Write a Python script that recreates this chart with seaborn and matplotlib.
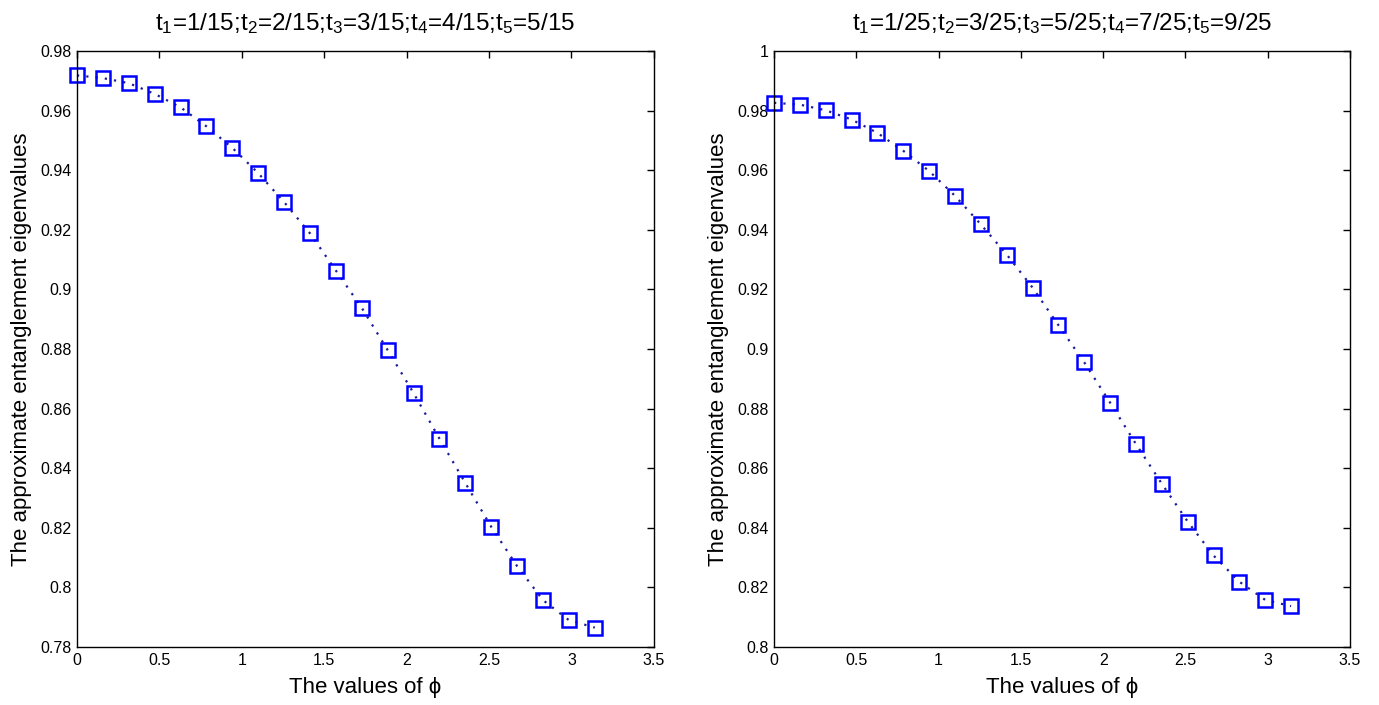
import matplotlib
matplotlib.use("Agg")
import matplotlib.pyplot as plt
import seaborn as sns
import pandas as pd
from matplotlib.ticker import FuncFormatter, MultipleLocator

# ---- data ----
phi = [0.0000, 0.1571, 0.3142, 0.4712, 0.6283, 0.7854, 0.9425, 1.0996, 1.2566,
       1.4137, 1.5708, 1.7279, 1.8850, 2.0420, 2.1991, 2.3562, 2.5133, 2.6704,
       2.8274, 2.9845, 3.1416]
eig_left = [0.9718, 0.9709, 0.9692, 0.9656, 0.9611, 0.9547, 0.9475, 0.9390, 0.9293,
            0.9188, 0.9063, 0.8938, 0.8796, 0.8652, 0.8499, 0.8350, 0.8203, 0.8071,
            0.7957, 0.7890, 0.7865]
eig_right = [0.9826, 0.9820, 0.9801, 0.9770, 0.9725, 0.9665, 0.9597, 0.9514, 0.9418,
             0.9317, 0.9206, 0.9080, 0.8955, 0.8820, 0.8681, 0.8548, 0.8421, 0.8307,
             0.8219, 0.8158, 0.8137]
title_left = r"t$_1$=1/15;t$_2$=2/15;t$_3$=3/15;t$_4$=4/15;t$_5$=5/15"
title_right = r"t$_1$=1/25;t$_2$=3/25;t$_3$=5/25;t$_4$=7/25;t$_5$=9/25"
ylims = [(0.78, 0.98), (0.80, 1.00)]
xlabel = "The values of ϕ"
ylabel = "The approximate entanglement eigenvalues"

sns.set_style("white")
plt.rcParams["font.family"] = ["Liberation Sans", "DejaVu Sans"]
plt.rcParams["mathtext.fontset"] = "custom"
plt.rcParams["mathtext.rm"] = "Liberation Sans"
plt.rcParams["mathtext.it"] = "Liberation Sans"
plt.rcParams["text.color"] = "black"
plt.rcParams["axes.labelcolor"] = "black"

fig = plt.figure(figsize=(13.79, 7.05), dpi=100)
ax1 = fig.add_axes([0.0558, 0.0823, 0.4184, 0.8454])
ax2 = fig.add_axes([0.5613, 0.0823, 0.4177, 0.8454])

fmt = FuncFormatter(lambda v, p: f"{round(v, 4):g}")

for ax, vals, title, yl in [(ax1, eig_left, title_left, ylims[0]),
                             (ax2, eig_right, title_right, ylims[1])]:
    df = pd.DataFrame({"phi": phi, "eig": vals})
    sns.lineplot(data=df, x="phi", y="eig", ax=ax, color="#1c1c9a",
                 linestyle=(0, (1, 3.2)), linewidth=1.6,
                 marker="s", markersize=10, markerfacecolor="none",
                 markeredgecolor="#0000ff", markeredgewidth=1.8, clip_on=False)
    ax.set_xlim(0, 3.5)
    ax.set_ylim(*yl)
    ax.xaxis.set_major_locator(MultipleLocator(0.5))
    ax.yaxis.set_major_locator(MultipleLocator(0.02))
    ax.xaxis.set_major_formatter(fmt)
    ax.yaxis.set_major_formatter(fmt)
    ax.tick_params(direction="in", top=True, right=True, length=5, width=1,
                   labelsize=11.5, colors="black", pad=4)
    for s in ax.spines.values():
        s.set_visible(True)
        s.set_color("black")
        s.set_linewidth(1)
    ax.set_title(title, fontsize=17.5, pad=15)
    ax.set_xlabel(xlabel, fontsize=16, labelpad=7)
    ax.set_ylabel(ylabel, fontsize=16, labelpad=6)

fig.savefig("out.png", dpi=100, facecolor="white")
